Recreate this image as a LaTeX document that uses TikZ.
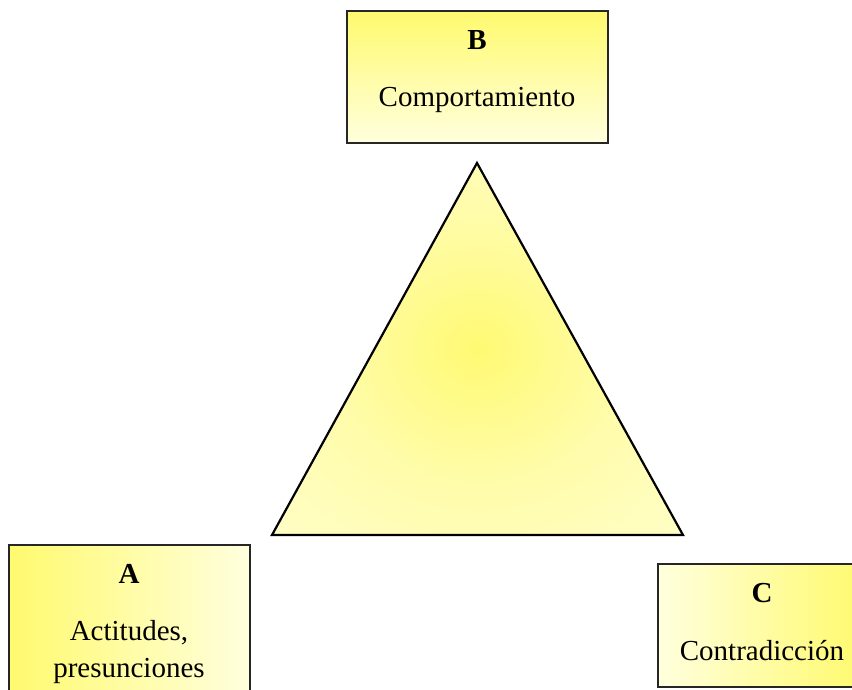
\documentclass[tikz,border=0pt]{standalone}
\usepackage{fontspec}
\setmainfont{Liberation Serif}
\definecolor{ystrong}{RGB}{255,250,110}
\definecolor{ypale}{RGB}{255,255,222}
\definecolor{triin}{RGB}{255,250,115}
\definecolor{trimid}{RGB}{255,252,170}
\definecolor{triout}{RGB}{255,255,205}
\pgfdeclareradialshading{trishade}{\pgfpoint{0bp}{0bp}}{color(0bp)=(triin); color(18bp)=(trimid); color(40bp)=(triout); color(50bp)=(triout)}
\begin{document}
\begin{tikzpicture}[x=1pt,y=-1pt,
  box/.style={draw=black!85, line width=1.3pt, rectangle, inner sep=0pt},
  lbl/.style={anchor=base, inner sep=0pt, font=\fontsize{29}{34}\selectfont},
  hd/.style={lbl, font=\fontsize{29}{34}\selectfont\bfseries}]
\useasboundingbox (0,0) rectangle (852,690);
\clip (0,0) rectangle (852,690);
% boxes
\node[box, top color=ystrong, bottom color=ypale, minimum width=261pt, minimum height=132pt] (boxB) at (477.5,77) {};
\node[box, left color=ystrong, right color=ypale, minimum width=241pt, minimum height=155pt] (boxA) at (129.5,622.5) {};
\node[box, left color=ypale, right color=ystrong, minimum width=204pt, minimum height=123pt] (boxC) at (760,625.5) {};
% texts
\node[hd] (tB) at (477,50) {B};
\node[lbl] (tB2) at (477,107) {Comportamiento};
\node[hd] (tA) at (129,583) {A};
\node[lbl] (tA2) at (129,640) {Actitudes,};
\node[lbl] (tA3) at (129,677) {presunciones};
\node[hd] (tC) at (762,602) {C};
\node[lbl] (tC2) at (762,660) {Contradicción};
% triangle
\coordinate (apex) at (477,163);
\coordinate (bl) at (272,535);
\coordinate (br) at (683,535);
\shadedraw[shading=trishade, draw=black, line width=2.2pt, line join=miter] (apex) -- (bl) -- (br) -- cycle;
\end{tikzpicture}
\end{document}
